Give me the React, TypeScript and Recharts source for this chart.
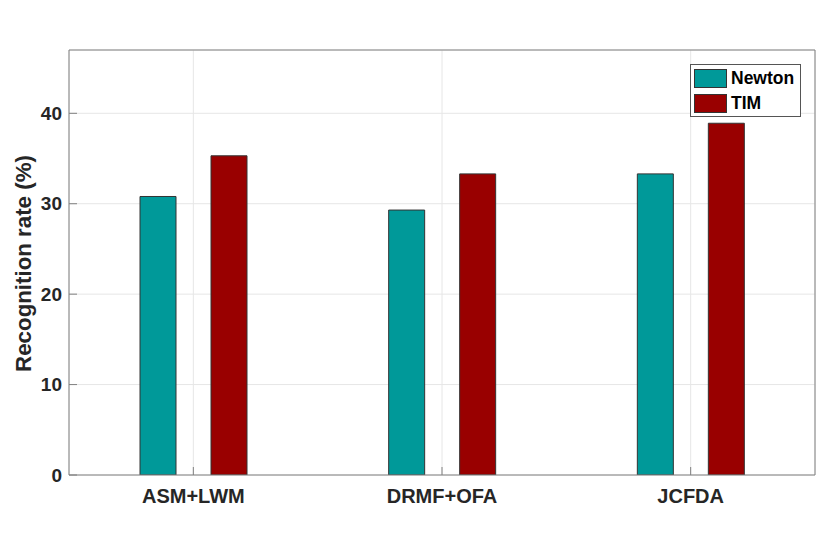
import React from 'react';
import { BarChart, Bar, XAxis, YAxis, CartesianGrid, Legend } from 'recharts';

const categories = ['ASM+LWM', 'DRMF+OFA', 'JCFDA'];
const newtonValues = [30.8, 29.3, 33.3];
const timValues = [35.3, 33.3, 38.9];
const yTicks = [0, 10, 20, 30, 40];
const seriesNames = ['Newton', 'TIM'];
const seriesColors = ['#009999', '#990000'];

const data = categories.map((name, i) => ({
  name,
  Newton: newtonValues[i],
  TIM: timValues[i],
}));

const FONT = '"Liberation Sans", Arial, Helvetica, sans-serif';
const AXIS = '#808080';
const TEXT = '#262626';

const yTickStyle = { fill: TEXT, fontSize: 19, fontWeight: 'bold' as const, fontFamily: FONT };
const xTickStyle = { fill: TEXT, fontSize: 20, fontWeight: 'bold' as const, fontFamily: FONT };

const renderLegend = (props: any) => {
  const payload = (props.payload || []).filter((p: any) => seriesNames.includes(p.value));
  return (
    <div
      style={{
        position: 'relative',
        width: 111,
        height: 53,
        boxSizing: 'border-box',
        border: '1px solid #555',
        background: '#fff',
        fontFamily: FONT,
      }}
    >
      {payload.map((p: any, i: number) => (
        <div key={p.value} style={{ position: 'absolute', left: 3, top: 4 + i * 25, height: 19, display: 'flex', alignItems: 'center' }}>
          <div style={{ width: 33, height: 19, boxSizing: 'border-box', background: p.color, border: '1px solid #333' }} />
          <span style={{ marginLeft: 4, fontSize: 17.5, fontWeight: 'bold', color: '#000', lineHeight: '19px' }}>{p.value}</span>
        </div>
      ))}
    </div>
  );
};

const YLabel = (props: any) => {
  const vb = props.viewBox || {};
  const cy = vb.y + vb.height / 2 + 1;
  return (
    <text
      x={23}
      y={cy}
      transform={`rotate(-90, 23, ${cy})`}
      textAnchor="middle"
      dominantBaseline="central"
      fill={TEXT}
      fontSize={22.3}
      fontWeight="bold"
      fontFamily={FONT}
    >
      Recognition rate (%)
    </text>
  );
};

export default function App() {
  return (
    <div style={{ position: 'absolute', left: 0, top: 0, width: 831, height: 534, background: '#fff' }}>
      <BarChart
        width={831}
        height={534}
        data={data}
        margin={{ top: 40, right: 6, bottom: 9, left: 19 }}
        barSize={36}
        barGap={35}
      >
        <CartesianGrid xAxisId="bottom" yAxisId="left" stroke="#e6e6e6" strokeWidth={1} />
        <XAxis
          xAxisId="bottom"
          dataKey="name"
          orientation="bottom"
          height={50}
          axisLine={{ stroke: AXIS }}
          tickLine={{ stroke: AXIS }}
          tickSize={-8}
          tickMargin={22}
          tick={xTickStyle}
          interval={0}
        />
        <XAxis
          xAxisId="top"
          dataKey="name"
          orientation="top"
          height={10}
          axisLine={{ stroke: AXIS }}
          tickLine={{ stroke: AXIS }}
          tickSize={-8}
          tick={false}
          interval={0}
        />
        <YAxis
          yAxisId="left"
          orientation="left"
          width={50}
          domain={[0, 47]}
          ticks={yTicks}
          allowDataOverflow
          axisLine={{ stroke: AXIS }}
          tickLine={{ stroke: AXIS }}
          tickSize={-8}
          tickMargin={15}
          tick={yTickStyle}
          label={<YLabel />}
        />
        <YAxis
          yAxisId="right"
          orientation="right"
          width={10}
          domain={[0, 47]}
          ticks={yTicks}
          allowDataOverflow
          axisLine={{ stroke: AXIS }}
          tickLine={{ stroke: AXIS }}
          tickSize={-8}
          tick={false}
        />
        <Legend
          layout="vertical"
          align="center"
          verticalAlign="middle"
          content={renderLegend}
          wrapperStyle={{ position: 'absolute', left: 690, top: 64, width: 111, height: 53 }}
        />
        <Bar
          xAxisId="bottom"
          yAxisId="left"
          dataKey="Newton"
          name={seriesNames[0]}
          fill={seriesColors[0]}
          stroke="#333"
          strokeWidth={1}
          isAnimationActive={false}
        />
        <Bar
          xAxisId="bottom"
          yAxisId="left"
          dataKey="TIM"
          name={seriesNames[1]}
          fill={seriesColors[1]}
          stroke="#333"
          strokeWidth={1}
          isAnimationActive={false}
        />
      </BarChart>
    </div>
  );
}
